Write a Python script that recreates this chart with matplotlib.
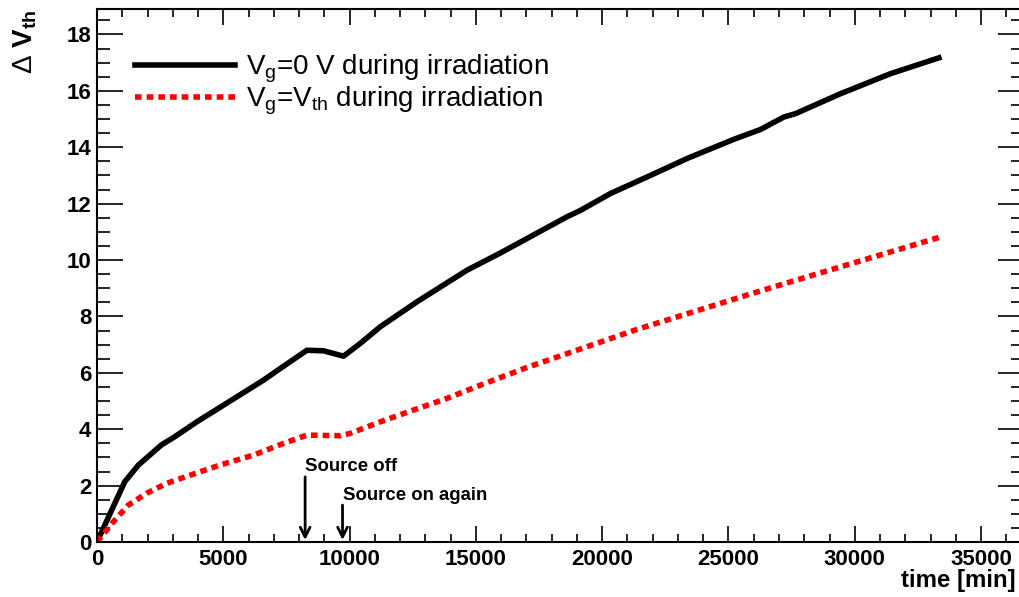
import numpy as np
import matplotlib
matplotlib.use("Agg")
import matplotlib.pyplot as plt

plt.rcParams['font.family'] = ['Liberation Sans', 'DejaVu Sans']
plt.rcParams['mathtext.fontset'] = 'custom'
plt.rcParams['mathtext.rm'] = 'Liberation Sans'
plt.rcParams['mathtext.bf'] = 'Liberation Sans:bold'
plt.rcParams['mathtext.it'] = 'Liberation Sans:italic'

# Vg = 0 V during irradiation
t_zero = [0, 1100, 1640, 2560, 3020, 3950, 5540, 6590, 7250, 8310, 8970, 9760,
          10420, 11210, 12670, 14650, 15970, 18600, 19140, 20330, 21910, 23360,
          25210, 26270, 27190, 27650, 29440, 31420, 33330]
dv_zero = [0, 2.14, 2.73, 3.45, 3.70, 4.26, 5.15, 5.74, 6.15, 6.80, 6.78, 6.59,
           7.04, 7.63, 8.52, 9.64, 10.25, 11.53, 11.76, 12.36, 13.00, 13.60,
           14.28, 14.63, 15.07, 15.19, 15.90, 16.61, 17.17]

# Vg = Vth during irradiation
t_vth = [0, 650, 1240, 1970, 2760, 3690, 4870, 6190, 7450, 8310, 9630, 10020,
         11210, 12530, 13850, 15170, 17020, 21380, 26140, 29440, 33330]
dv_vth = [0, 0.72, 1.31, 1.73, 2.08, 2.37, 2.73, 3.08, 3.52, 3.79, 3.77, 3.85,
          4.26, 4.68, 5.09, 5.56, 6.19, 7.54, 8.87, 9.76, 10.80]

# annotations: (label, x position, arrow top)
source_off = ("Source off", 8240, 2.31)
source_on = ("Source on again", 9720, 1.31)

fig = plt.figure(figsize=(10.19, 5.97), dpi=100)
ax = fig.add_axes([97 / 1019, 1 - 542 / 597, (1024 - 97) / 1019, (542 - 8.5) / 597])

ax.plot(t_zero, dv_zero, color='black', lw=4.0, solid_joinstyle='round',
        label=r'V$_{\rm g}$=0 V during irradiation')
ax.plot(t_vth, dv_vth, color='red', lw=4.0, linestyle=(0, (1.2, 0.9)),
        dash_capstyle='butt', label=r'V$_{\rm g}$=V$_{\rm th}$ during irradiation')

ax.set_xlim(0, 36700)
ax.set_ylim(0, 18.92)
ax.set_xticks(np.arange(0, 36000, 5000))
ax.set_xticks(np.arange(0, 36700, 1000), minor=True)
ax.set_yticks(np.arange(0, 19, 2))
ax.set_yticks(np.arange(0, 18.92, 0.5), minor=True)

for lab in ax.get_xticklabels() + ax.get_yticklabels():
    lab.set_fontweight('bold')
ax.tick_params(axis='both', which='both', direction='in', top=True, right=True,
               labelsize=16, width=1.2)
ax.tick_params(axis='y', which='major', length=19, pad=4)
ax.tick_params(axis='y', which='minor', length=9.5)
ax.tick_params(axis='x', which='major', length=11.5, pad=5)
ax.tick_params(axis='x', which='minor', length=5.8)
for s in ax.spines.values():
    s.set_linewidth(1.5)

for label, x, ytop in [source_off, source_on]:
    ax.annotate('', xy=(x, 0.07), xytext=(x, ytop),
                arrowprops=dict(arrowstyle='->,head_length=0.7,head_width=0.35',
                                lw=2, color='black', shrinkA=0, shrinkB=0))
    ax.text(x, ytop + 0.05, label, fontsize=13.4, fontweight='bold',
            ha='left', va='bottom')

ax.legend(loc='upper left', bbox_to_anchor=(0.029, 0.938), frameon=False,
          fontsize=20, handlelength=3.6, handletextpad=0.4,
          labelspacing=0.0, borderaxespad=0)

fig.text(1016 / 1019, 1 - 580 / 597, 'time [min]', fontsize=17.3,
         fontweight='bold', ha='right', va='center')
fig.text(25 / 1019, 1 - 10 / 597, r'$\Delta$ V$_{\mathbf{th}}$', fontsize=20,
         fontweight='bold', rotation=90, ha='center', va='top')

fig.savefig('out.png', dpi=100)
